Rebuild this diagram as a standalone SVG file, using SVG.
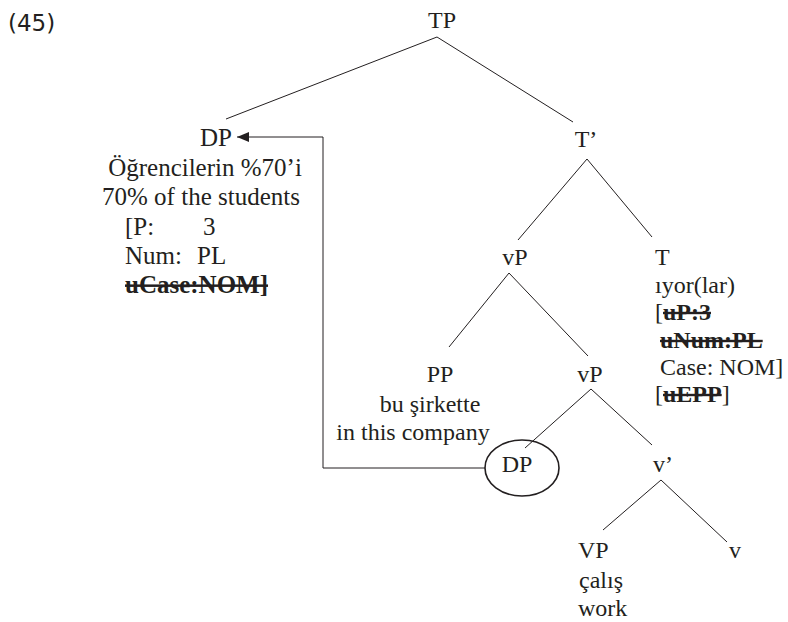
<svg xmlns="http://www.w3.org/2000/svg" width="788" height="622" viewBox="0 0 788 622">
<defs>
<style>
.t{font-size:24px;fill:#231f20}
.b{font-size:25px}
.m{text-anchor:middle}
.s{font-weight:bold;text-decoration:line-through}
.n{font-size:23px;fill:#231f20}
.e{stroke:#231f20;stroke-width:1;fill:none}
</style>
<marker id="ah" viewBox="0 0 12 10" refX="12" refY="5" markerWidth="12" markerHeight="10" markerUnits="userSpaceOnUse" orient="auto">
<path d="M0,0 L12,5 L0,10 z" fill="#231f20"/>
</marker>
</defs>
<rect width="788" height="622" fill="#fff"/>
<text class="n" font-family="DejaVu Sans, Verdana, sans-serif" x="8" y="31">(45)</text>
<g id="connectors">
<line class="e" x1="437" y1="37" x2="226" y2="119"/>
<line class="e" x1="437" y1="37" x2="573" y2="122"/>
<line class="e" x1="587" y1="159" x2="518" y2="240"/>
<line class="e" x1="587" y1="159" x2="652" y2="237"/>
<line class="e" x1="509" y1="273" x2="449" y2="347"/>
<line class="e" x1="509" y1="273" x2="588" y2="356"/>
<line class="e" x1="591" y1="389" x2="525" y2="448"/>
<line class="e" x1="591" y1="389" x2="652" y2="445"/>
<line class="e" x1="661" y1="480" x2="603" y2="530"/>
<line class="e" x1="661" y1="480" x2="727" y2="542"/>
<polyline class="e" stroke-width="1.5" points="485,468 323,468 323,137 237,137" marker-end="url(#ah)"/>
</g>
<g font-family="Liberation Serif, Times New Roman, DejaVu Serif, serif">
<g id="TP"><text class="t m" x="442" y="28">TP</text></g>
<g id="DP-moved">
<text class="t b m" x="216" y="146">DP</text>
<text class="t b m" x="205" y="176">Öğrencilerin %70’i</text>
<text class="t b m" x="201" y="205">70% of the students</text>
<text class="t b" x="125" y="235">[P:<tspan x="203">3</tspan></text>
<text class="t b" x="125" y="264">Num:<tspan x="197">PL</tspan></text>
<text class="t b s" x="125" y="293">uCase:NOM]</text>
</g>
<g id="Tbar"><text class="t m" x="586" y="147">T’</text></g>
<g id="vP"><text class="t m" x="515" y="265">vP</text></g>
<g id="T">
<text class="t" x="655" y="265">T</text>
<text class="t" x="655" y="293">ıyor(lar)</text>
<text class="t" x="655" y="320">[<tspan class="s">uP:3</tspan></text>
<text class="t s" x="660" y="348">uNum:PL</text>
<text class="t" x="660" y="375">Case: NOM]</text>
<text class="t" x="655" y="402">[<tspan class="s">uEPP</tspan>]</text>
</g>
<g id="PP">
<text class="t m" x="440" y="382">PP</text>
<text class="t m" x="430" y="412">bu şirkette</text>
<text class="t m" x="413" y="440">in this company</text>
</g>
<g id="vP2"><text class="t m" x="590" y="382">vP</text></g>
<g id="DP-trace">
<ellipse cx="522" cy="468" rx="37" ry="28" fill="none" stroke="#231f20" stroke-width="1.6"/>
<text class="t m" x="517" y="472">DP</text>
</g>
<g id="vbar"><text class="t m" x="663" y="472">v’</text></g>
<g id="VP">
<text class="t" x="578" y="558">VP</text>
<text class="t" x="579" y="588">çalış</text>
<text class="t" x="578" y="616">work</text>
</g>
<g id="v"><text class="t" x="729" y="558">v</text></g>
</g>
</svg>
